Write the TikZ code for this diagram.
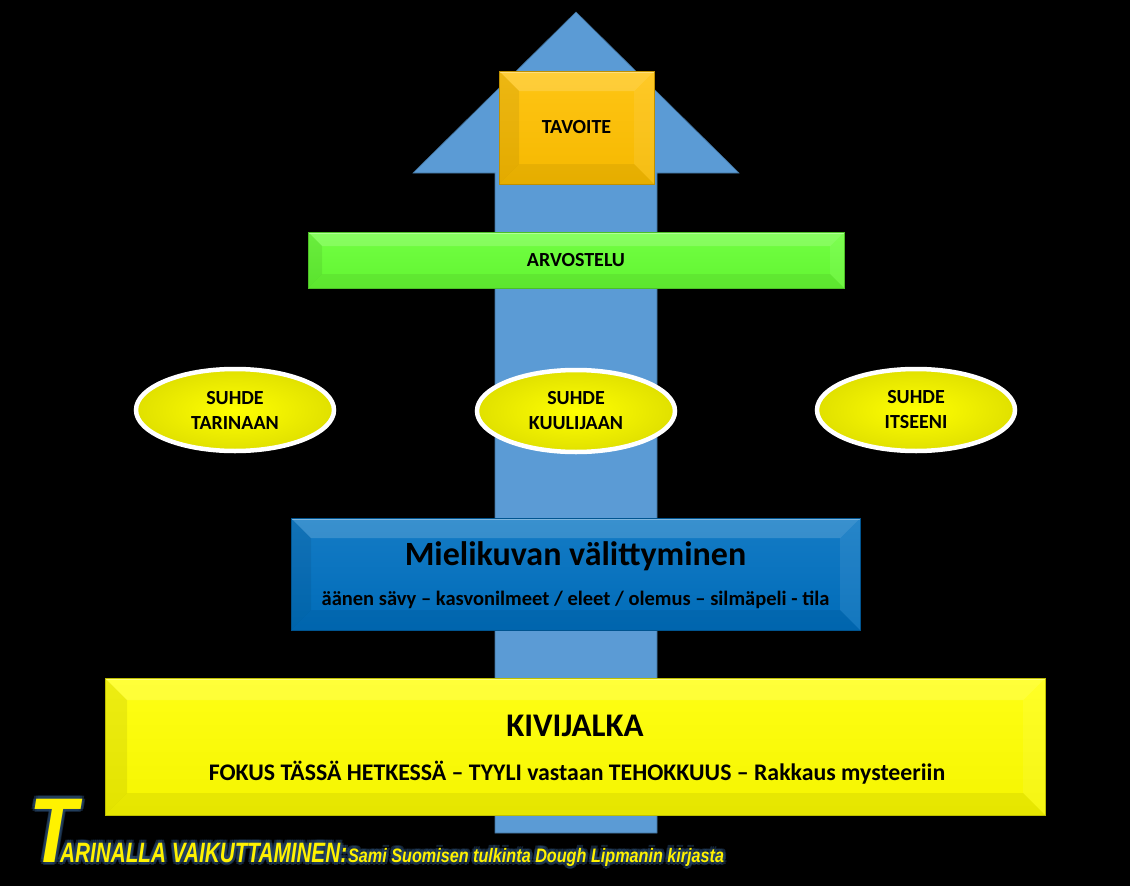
\documentclass[tikz,border=0pt]{standalone}
\usepackage{fontspec}
\setmainfont{Carlito}
\newfontfamily\titlefont{Liberation Sans}
\usetikzlibrary{positioning,shapes.geometric}

\definecolor{arrowblue}{HTML}{5B9BD5}
\definecolor{arrowedge}{HTML}{41719C}
\definecolor{goalgold}{HTML}{FFC000}
\definecolor{reviewgreen}{HTML}{66FF33}
\definecolor{imageblue}{HTML}{0070C0}
\definecolor{baseyellow}{HTML}{FFFF00}
\definecolor{glowblue}{HTML}{27476B}

\tikzset{
  bevel/.style={path picture={
      \path (path picture bounding box.north west) coordinate (bNW)
            (path picture bounding box.north east) coordinate (bNE)
            (path picture bounding box.south east) coordinate (bSE)
            (path picture bounding box.south west) coordinate (bSW);
      % soft faces round the edge
      \fill[white,opacity=.16] (bNW) -- (bNE) -- ([shift={(-#1pt,-#1pt)}]bNE) -- ([shift={(#1pt,-#1pt)}]bNW) -- cycle;
      \fill[black,opacity=.07] (bNW) -- ([shift={(#1pt,-#1pt)}]bNW) -- ([shift={(#1pt,#1pt)}]bSW) -- (bSW) -- cycle;
      \fill[black,opacity=.06] (bSW) -- ([shift={(#1pt,#1pt)}]bSW) -- ([shift={(-#1pt,#1pt)}]bSE) -- (bSE) -- cycle;
      \fill[white,opacity=.08] (bNE) -- (bSE) -- ([shift={(-#1pt,#1pt)}]bSE) -- ([shift={(-#1pt,-#1pt)}]bNE) -- cycle;
      \draw[white,opacity=.35,line width=1.5pt] ([yshift=-1pt]bNW) -- ([yshift=-1pt]bNE);
  }},
  slab/.style={rectangle, draw=#1!75!black, line width=.7pt, top color=#1!92!white, bottom color=#1!96!black, inner sep=0pt, align=center},
  relation/.style={ellipse, draw=white, line width=4.5pt, inner color=baseyellow, outer color=baseyellow!88!black,
    minimum width=198pt, minimum height=82pt, inner sep=0pt, align=center, font=\bfseries\fontsize{20}{25}\selectfont},
  glow/.style={text=glowblue, opacity=.5},
}

\newcommand{\bigletter}{\titlefont\bfseries\itshape\fontsize{92}{92}\selectfont\scalebox{0.85}[1]{T}}
\newcommand{\titlemain}{\titlefont\bfseries\itshape\fontsize{28}{28}\selectfont\scalebox{0.74}[1]{ARINALLA VAIKUTTAMINEN:}}
\newcommand{\titlesub}{\titlefont\bfseries\itshape\fontsize{19.5}{20}\selectfont\scalebox{0.83}[1]{Sami Suomisen tulkinta Dough Lipmanin kirjasta}}

\begin{document}
\begin{tikzpicture}[x=1pt, y=-1pt]
    % background
    \fill[black] (0,0) rectangle (1130,886);

    % big arrow
    \filldraw[fill=arrowblue, draw=arrowedge, line width=.6pt]
        (495,833) -- (495,173) -- (413,173) -- (576,12) -- (739,173) -- (657,173) -- (657,833) -- cycle;

    % boxes
    \node[slab=goalgold, bevel=20, minimum width=155pt, minimum height=113pt,
          font=\bfseries\fontsize{20}{24}\selectfont] (goal) at (576.5,127.5) {TAVOITE};
    \node[slab=reviewgreen, bevel=14, minimum width=536pt, minimum height=56pt,
          font=\bfseries\fontsize{20}{24}\selectfont] (review) at (576,260) {ARVOSTELU};

    % relations
    \node[relation] (story) at (235,410) {SUHDE\\TARINAAN};
    \node[relation] (listener) at (576,411) {SUHDE\\KUULIJAAN};
    \node[relation] (self) at (916,410) {SUHDE\\ITSEENI};

    \node[slab=imageblue, bevel=20, minimum width=569pt, minimum height=112pt] (image) at (575.5,574) {};
    \node[font=\bfseries\fontsize{34}{40}\selectfont] (imagetitle) at (575.5,556) {Mielikuvan välittyminen};
    \node[font=\bfseries\fontsize{20.5}{24}\selectfont] (imagetext) at (575.5,600) {äänen sävy -- kasvonilmeet / eleet / olemus -- silmäpeli - tila};

    \node[slab=baseyellow, bevel=22, minimum width=940pt, minimum height=137pt] (base) at (575,746.5) {};
    \node[font=\bfseries\fontsize{33}{40}\selectfont] (basetitle) at (575,726) {KIVIJALKA};
    \node[font=\bfseries\fontsize{23.8}{28}\selectfont] (basetext) at (577,773) {FOKUS TÄSSÄ HETKESSÄ -- TYYLI vastaan TEHOKKUUS -- Rakkaus mysteeriin};

    % title with glow
    \foreach \ang in {0,45,...,315} {
        \node[glow, anchor=base west, inner sep=0pt] (glowT\ang) at ([shift={(\ang:3pt)}]29,862) {\bigletter};
        \node[glow, anchor=base west, inner sep=0pt] (glowA\ang) at ([shift={(\ang:3pt)}]60,862) {\titlemain};
        \node[glow, anchor=base west, inner sep=0pt] (glowS\ang) at ([shift={(\ang:3pt)}]348,862) {\titlesub};
    }
    \node[text=yellow, anchor=base west, inner sep=0pt] (titleT) at (29,862) {\bigletter};
    \node[text=yellow, anchor=base west, inner sep=0pt] (titleA) at (60,862) {\titlemain};
    \node[text=yellow, anchor=base west, inner sep=0pt] (titleS) at (348,862) {\titlesub};
\end{tikzpicture}
\end{document}
